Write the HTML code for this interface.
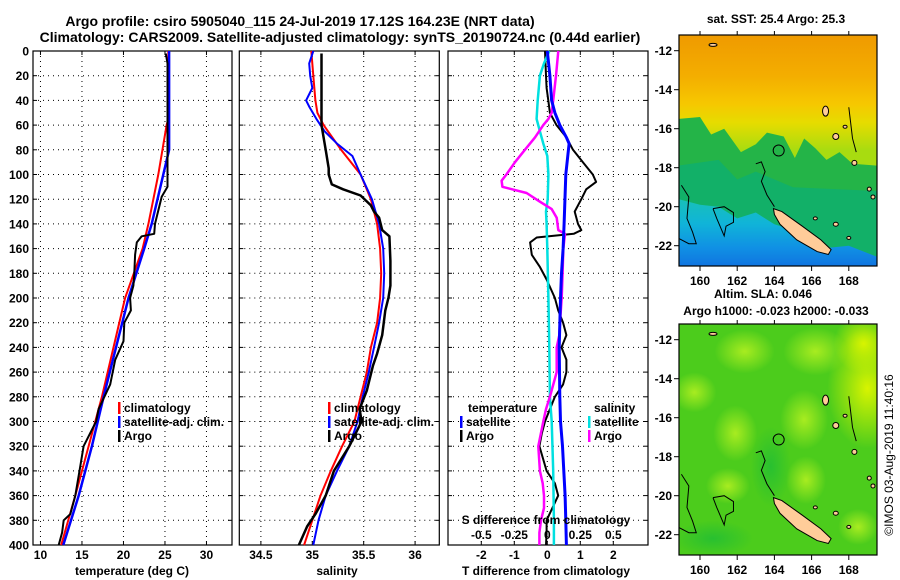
<!DOCTYPE html>
<html><head><meta charset="utf-8"><style>
html,body{margin:0;padding:0;background:#fff;}
svg{display:block;font-family:"Liberation Sans",Arial,sans-serif;font-weight:bold;}
</style></head><body>
<svg id="fig" width="900" height="580" viewBox="0 0 900 580" xmlns="http://www.w3.org/2000/svg">
<defs>
<linearGradient id="sstGrad" x1="0" y1="0" x2="0" y2="1">
<stop offset="0" stop-color="#ef9a00"/><stop offset="0.18" stop-color="#f4ae00"/>
<stop offset="0.3" stop-color="#f6c800"/><stop offset="0.38" stop-color="#e6dc00"/>
<stop offset="0.5" stop-color="#a8dc10"/><stop offset="1" stop-color="#a8dc10"/>
</linearGradient>
<linearGradient id="blueGrad" x1="0" y1="0" x2="0" y2="1">
<stop offset="0" stop-color="#18c0b8"/><stop offset="0.35" stop-color="#10b4d8"/>
<stop offset="0.7" stop-color="#1090e4"/><stop offset="1" stop-color="#1070e0"/>
</linearGradient>
<radialGradient id="slaPatch"><stop offset="0" stop-color="#a8ec20"/><stop offset="1" stop-color="#a8ec20" stop-opacity="0"/></radialGradient>
<radialGradient id="slaYellow"><stop offset="0" stop-color="#d8f400"/><stop offset="1" stop-color="#d8f400" stop-opacity="0"/></radialGradient>
<radialGradient id="slaDark"><stop offset="0" stop-color="#28c030"/><stop offset="1" stop-color="#28c030" stop-opacity="0"/></radialGradient>
<clipPath id="clipTop"><rect x="679" y="35" width="198" height="231"/></clipPath>
<clipPath id="clipBot"><rect x="679" y="324" width="198" height="231"/></clipPath>
</defs>
<text x="300" y="26" font-size="14" text-anchor="middle">Argo profile: csiro 5905040_115 24-Jul-2019 17.12S 164.23E (NRT data)</text>
<text x="340" y="42" font-size="14" text-anchor="middle">Climatology: CARS2009. Satellite-adjusted climatology: synTS_20190724.nc (0.44d earlier)</text>
<g id="g1"></g>
<g id="g2"></g>
<g id="g3"></g>
<g id="m1"></g>
<g id="m2"></g>
<text x="0" y="0" font-size="12" font-weight="normal" transform="translate(893,455) rotate(-90)" text-anchor="middle">©IMOS 03-Aug-2019 11:40:16</text>
</svg>
<script>
// ---- data ----
const depthTicks = [0,20,40,60,80,100,120,140,160,180,200,220,240,260,280,300,320,340,360,380,400];
const tempTicks = [10,15,20,25,30];
const salTicks = [34.5,35,35.5,36];
const tdiffTicks = [-2,-1,0,1,2];
const sdiffTicks = [-0.5,-0.25,0,0.25,0.5];
const sdiffTickLabels = ["-0.5","-0.25","0","0.25","0.5"];

const tClimDepth = [0,55,60,100,140,160,200,240,280,320,360,400];
const tClimVal   = [25.4,25.4,25.2,24.2,23.0,22.3,20.2,18.8,17.4,15.8,14.2,12.5];
const tSatDepth = [0,80,100,140,160,200,240,280,320,360,400];
const tSatVal   = [25.5,25.5,24.8,23.4,22.5,20.6,19.1,17.6,16.2,14.6,12.75];
const tArgoDepth = [2,10,20,110,118,140,148,150,155,165,180,190,200,210,220,235,250,270,290,300,320,340,360,375,380,390,400];
const tArgoVal   = [25.1,25.3,25.3,25.3,24.6,23.8,23.7,22.2,21.6,21.4,21.3,21.2,20.8,20.9,20.1,20.0,19.0,18.4,17.0,16.7,15.2,14.7,14.2,13.6,12.8,12.6,12.2];

const sClimDepth = [0,20,40,50,60,80,100,120,140,160,180,200,220,240,260,280,300,320,340,360,380,400];
const sClimVal   = [34.99,35.01,35.03,35.05,35.11,35.28,35.47,35.57,35.63,35.66,35.67,35.66,35.63,35.57,35.53,35.47,35.41,35.29,35.18,35.08,35.0,34.92];
const sSatDepth = [0,10,20,30,40,45,55,65,75,85,100,120,140,160,180,200,220,240,260,280,300,320,340,360,380,400];
const sSatVal   = [35.01,34.97,34.98,35.0,34.94,34.97,35.04,35.12,35.24,35.39,35.47,35.58,35.65,35.69,35.70,35.69,35.65,35.60,35.55,35.49,35.44,35.36,35.24,35.13,35.06,35.01];
const sArgoDepth = [2,60,80,95,100,108,112,117,125,130,135,145,150,170,190,200,210,230,245,255,275,290,300,320,340,360,375,385,400];
const sArgoVal   = [35.09,35.09,35.13,35.16,35.16,35.19,35.30,35.47,35.57,35.60,35.65,35.68,35.75,35.76,35.76,35.74,35.71,35.68,35.63,35.59,35.53,35.46,35.48,35.36,35.21,35.13,35.03,34.95,34.87];

const dTSatDepth = [0,20,40,50,60,70,75,100,140,160,180,200,240,280,300,320,340,360,380,400];
const dTSatVal   = [0,0.08,0.13,0.23,0.38,0.58,0.66,0.56,0.51,0.48,0.43,0.40,0.36,0.38,0.40,0.46,0.50,0.54,0.56,0.58];
const dTArgoDepth = [0,20,30,40,50,60,70,80,90,100,106,112,120,130,140,145,148,151,155,165,175,185,200,210,220,230,240,250,260,270,280,290,300,310,320,340,350,360,380,390,400];
const dTArgoVal   = [-0.07,-0.04,-0.02,0.03,0.08,0.28,0.58,0.78,1.08,1.38,1.48,1.18,1.03,0.83,0.93,1.03,0.8,-0.32,-0.52,-0.47,-0.22,-0.02,0.23,0.33,0.48,0.58,0.43,0.58,0.58,0.48,0.23,0.08,-0.07,-0.17,-0.24,-0.02,0.23,0.33,-0.02,-0.02,-0.04];
const dSSatDepth = [0,10,20,40,55,65,75,85,100,120,130,140,160,200,240,280,300,340,380,400];
const dSSatVal   = [0.015,-0.025,-0.056,-0.073,-0.081,-0.056,-0.03,0,0.008,0.003,-0.01,-0.005,0,0.008,0.015,0.02,0.033,0.045,0.05,0.05];
const dSArgoDepth = [0,20,40,50,55,60,70,80,90,100,105,110,115,122,128,135,145,148,160,180,200,220,230,240,260,280,290,300,320,340,350,360,370,380,390,400];
const dSArgoVal   = [0.083,0.066,0.045,0.033,0.008,-0.03,-0.093,-0.17,-0.245,-0.31,-0.346,-0.34,-0.157,-0.056,0.033,0.071,0.083,0.134,0.121,0.116,0.109,0.096,0.091,0.071,0.071,0.02,-0.01,-0.03,-0.068,-0.056,-0.035,-0.025,-0.025,-0.048,-0.06,-0.06];

const latTicks = [-12,-14,-16,-18,-20,-22];
const lonTicks = [160,162,164,166,168];

// ---- axis functions ----
const Y0=51, Y1=545;
const yD = d => Y0 + d*(Y1-Y0)/400;
const xT = v => 33 + (v-9.1)*8.3;
const xS = v => 239.3 + (v-34.29)*102.8;
const xDT = v => 547.3 + v*33;
const xDS = v => 547.3 + v*132;
const NS="http://www.w3.org/2000/svg";
function mk(tag, attrs, parent){const e=document.createElementNS(NS,tag);for(const k in attrs)e.setAttribute(k,attrs[k]);parent.appendChild(e);return e;}
function txt(parent,x,y,s,size,anchor){const e=mk('text',{x:x,y:y,'font-size':size,'text-anchor':anchor||'middle'},parent);e.textContent=s;return e;}

function panel(g,x0,x1,xf,xt,showY){
  const fr=mk('rect',{x:x0,y:Y0,width:x1-x0,height:Y1-Y0,fill:'#fff',stroke:'#000','stroke-width':1.2},g);
  
  
  depthTicks.forEach(d=>{
    if(d>0&&d<400){const l=mk('line',{x1:x0,x2:x1,y1:yD(d),y2:yD(d),stroke:'#000','stroke-width':1,'stroke-dasharray':'1 4'},g);
      
      }
    mk('line',{x1:x0,x2:x0+4,y1:yD(d),y2:yD(d),stroke:'#000'},g);
    mk('line',{x1:x1-4,x2:x1,y1:yD(d),y2:yD(d),stroke:'#000'},g);
    if(showY){const t=txt(g,x0-4,yD(d)+4.5,String(d),12,'end');
      
      }
  });
  xt.forEach(v=>{const x=xf(v);
    const l=mk('line',{x1:x,x2:x,y1:Y0,y2:Y1,stroke:'#000','stroke-width':1,'stroke-dasharray':'1 4'},g);
    
    
    mk('line',{x1:x,x2:x,y1:Y1-4,y2:Y1,stroke:'#000'},g);
    mk('line',{x1:x,x2:x,y1:Y0,y2:Y0+4,stroke:'#000'},g);
    const t=txt(g,x,Y1+14,String(v),12);
    
    
  });
}
function line(g,depths,vals,xf,color,w,name){
  const pts=depths.map((d,i)=>xf(vals[i]).toFixed(1)+','+yD(d).toFixed(1)).join(' ');
  const p=mk('polyline',{points:pts,fill:'none',stroke:color,'stroke-width':w,'stroke-linejoin':'round'},g);
  
  
}
function legend(g,x,y,color,label){
  mk('rect',{x:x,y:y-10,width:2.5,height:12,fill:color},g);
  const t=txt(g,x+6,y,label,12,'start');
  
  
}

// Panel 1
const g1=document.getElementById('g1');
panel(g1,33,232,xT,tempTicks,true);
line(g1,tClimDepth,tClimVal,xT,'#f00',2,'temp-climatology-line');
line(g1,tSatDepth,tSatVal,xT,'#00f',2.5,'temp-satellite-line');
line(g1,tArgoDepth,tArgoVal,xT,'#000',2,'temp-argo-line');
legend(g1,118,412,'#f00','climatology');
legend(g1,118,426,'#00f','satellite-adj. clim.');
legend(g1,118,440,'#000','Argo');
{const t=txt(g1,132,575,'temperature (deg C)',12);}

// Panel 2
const g2=document.getElementById('g2');
panel(g2,239.3,439.3,xS,salTicks,false);
line(g2,sClimDepth,sClimVal,xS,'#f00',2,'sal-climatology-line');
line(g2,sSatDepth,sSatVal,xS,'#00f',2,'sal-satellite-line');
line(g2,sArgoDepth,sArgoVal,xS,'#000',2.5,'sal-argo-line');
legend(g2,328,412,'#f00','climatology');
legend(g2,328,426,'#00f','satellite-adj. clim.');
legend(g2,328,440,'#000','Argo');
{const t=txt(g2,337,575,'salinity',12);}

// Panel 3
const g3=document.getElementById('g3');
panel(g3,448,648,xDT,tdiffTicks,false);
line(g3,dTArgoDepth,dTArgoVal,xDT,'#000',2,'tdiff-argo-line');
line(g3,dSSatDepth,dSSatVal,xDS,'#00e0e0',2.5,'sdiff-satellite-line');
line(g3,dSArgoDepth,dSArgoVal,xDS,'#f0f',2.5,'sdiff-argo-line');
line(g3,dTSatDepth,dTSatVal,xDT,'#00f',3,'tdiff-satellite-line');
{const t=txt(g3,468,412,'temperature',12,'start');}
legend(g3,460,426,'#00f','satellite');
legend(g3,460,440,'#000','Argo');
{const t=txt(g3,594,412,'salinity',12,'start');}
legend(g3,588,426,'#00e0e0','satellite');
legend(g3,588,440,'#f0f','Argo');
{const t=txt(g3,546,524,'S difference from climatology',12);}
sdiffTicks.forEach((v,i)=>{const t=txt(g3,xDS(v),539,sdiffTickLabels[i],12);
  
  });
{const t=txt(g3,546,575,'T difference from climatology',12);}

// ---- maps ----
const mx = lon => 700 + (lon-160)*18.6;
function drawMap(g,top,kind,title1,title2){
  const my = lat => top + 15.7 + (-12-lat)*19.5;
  const cg=mk('g',{'clip-path':kind==='sst'?'url(#clipTop)':'url(#clipBot)'},g);
  if(kind==='sst'){
    mk('rect',{x:679,y:top,width:198,height:231,fill:'url(#sstGrad)'},cg);
    const gp=[[158.8,-15.5],[160,-15.4],[160.6,-16.3],[161.3,-16.0],[162.2,-17.2],[163,-16.8],[163.6,-16.2],[164.5,-16.4],[165.1,-17.5],[165.6,-16.5],[166.2,-17.0],[166.8,-17.6],[167.5,-17.2],[168.2,-17.8],[169.6,-17.9],[169.6,-23.2],[158.8,-23.2]];
    const p=mk('polygon',{points:gp.map(a=>mx(a[0])+','+my(a[1])).join(' '),fill:'#24b448'},cg);
    
    
    const gp2=[[158.8,-17.9],[161,-17.6],[162,-18.6],[163,-18.2],[165,-19.0],[169.6,-19.2],[169.6,-23.2],[158.8,-23.2]];
    mk('polygon',{points:gp2.map(a=>mx(a[0])+','+my(a[1])).join(' '),fill:'#12b068'},cg);
    const bp=[[158.8,-19.6],[160,-19.9],[161,-20.0],[162,-20.6],[163,-20.3],[164,-20.9],[165,-21.2],[166,-21.9],[167,-22.1],[168,-22.0],[169.6,-22.6],[169.6,-23.2],[158.8,-23.2]];
    const b=mk('polygon',{points:bp.map(a=>mx(a[0])+','+my(a[1])).join(' '),fill:'url(#blueGrad)'},cg);
    
    
  } else {
    mk('rect',{x:679,y:top,width:198,height:231,fill:'#4ccc1c'},cg);
    const blobs=[[162.4,-12.6,30,22,'url(#slaPatch)'],[166.2,-12.6,32,24,'url(#slaPatch)'],[169,-14.5,40,60,'url(#slaYellow)'],[168.8,-12.2,30,30,'url(#slaYellow)'],[161.9,-16.8,22,28,'url(#slaPatch)'],[165.6,-16.1,24,30,'url(#slaPatch)'],[159.7,-14.7,22,20,'url(#slaPatch)'],[165.7,-19.2,20,24,'url(#slaPatch)'],[161.5,-19.5,22,18,'url(#slaPatch)'],[168.5,-21.6,20,18,'url(#slaPatch)'],[163.8,-18.5,20,40,'url(#slaDark)'],[160.7,-22.2,40,18,'url(#slaDark)']];
    blobs.forEach(b=>{const e=mk('ellipse',{cx:mx(b[0]),cy:my(b[1]),rx:b[2],ry:b[3],fill:b[4]},cg);
      
      });
  }
  const c1=[[163.0,-17.8],[163.3,-17.7],[163.5,-18.2],[163.3,-18.7],[163.6,-19.4],[164.0,-20.0]];
  const c2=[[159.0,-18.9],[159.4,-19.5],[159.3,-20.6],[159.6,-21.3],[159.8,-21.9],[159.4,-21.9],[158.8,-21.6]];
  const c3=[[160.7,-20.1],[161.3,-20.0],[161.8,-20.3],[161.8,-20.8],[161.4,-21.0],[161.3,-21.5],[160.9,-20.6],[160.7,-20.1]];
  [c1,c2,c3].forEach(c=>{const e=mk('polyline',{points:c.map(a=>mx(a[0])+','+my(a[1])).join(' '),fill:'none',stroke:'#000','stroke-width':1},cg);
    
    });
  const nc=[[163.95,-20.1],[164.4,-20.25],[165.5,-21.0],[166.5,-21.7],[167.05,-22.2],[166.9,-22.45],[166.3,-22.3],[165.2,-21.7],[164.3,-20.9],[164.0,-20.4]];
  const isl=mk('polygon',{points:nc.map(a=>mx(a[0])+','+my(a[1])).join(' '),fill:'#ffcc99',stroke:'#000','stroke-width':1},cg);
  
  
  const small=[[166.75,-15.1,3,5],[167.3,-16.4,3,3],[168.3,-17.75,2.5,2.5],[169.1,-19.1,2,2],[169.3,-19.5,2,2],[167.3,-20.9,2.5,2],[168.0,-21.6,2,1.5],[166.2,-20.6,2,1.5],[160.7,-11.7,4,1.5],[167.8,-15.9,2,1.5]];
  small.forEach(s=>{const e=mk('ellipse',{cx:mx(s[0]),cy:my(s[1]),rx:s[2],ry:s[3],fill:'#ffcc99',stroke:'#000','stroke-width':1},cg);
    
    });
  mk('polyline',{points:[[168.0,-14.9],[168.1,-15.7],[168.2,-16.5],[168.4,-17.2]].map(a=>mx(a[0])+','+my(a[1])).join(' '),fill:'none',stroke:'#000','stroke-width':1},cg);
  const circ=mk('circle',{cx:mx(164.23),cy:my(-17.12),r:5.5,fill:'none',stroke:'#000','stroke-width':1},cg);
  
  
  const fr=mk('rect',{x:679,y:top,width:198,height:231,fill:'none',stroke:'#000','stroke-width':1.2},g);
  
  
  latTicks.forEach(l=>{mk('line',{x1:674,x2:679,y1:my(l),y2:my(l),stroke:'#000'},g);
    const t=txt(g,672,my(l)+4.5,String(l),12,'end');
    
    });
  lonTicks.forEach(l=>{mk('line',{x1:mx(l),x2:mx(l),y1:top+231,y2:top+236,stroke:'#000'},g);
    mk('line',{x1:mx(l),x2:mx(l),y1:top-4,y2:top,stroke:'#000'},g);
    const t=txt(g,mx(l),top+250,String(l),12);
    
    });
  if(title2){const t=txt(g,763,top-26,title1,12);
    const t2=txt(g,776,top-9,title2,12);}
  else {const t=txt(g,776,top-12,title1,12);}
}
drawMap(document.getElementById('m1'),35,'sst','sat. SST: 25.4 Argo: 25.3');
drawMap(document.getElementById('m2'),324,'sla','Altim. SLA: 0.046','Argo h1000: -0.023 h2000: -0.033');
</script>
</body></html>
